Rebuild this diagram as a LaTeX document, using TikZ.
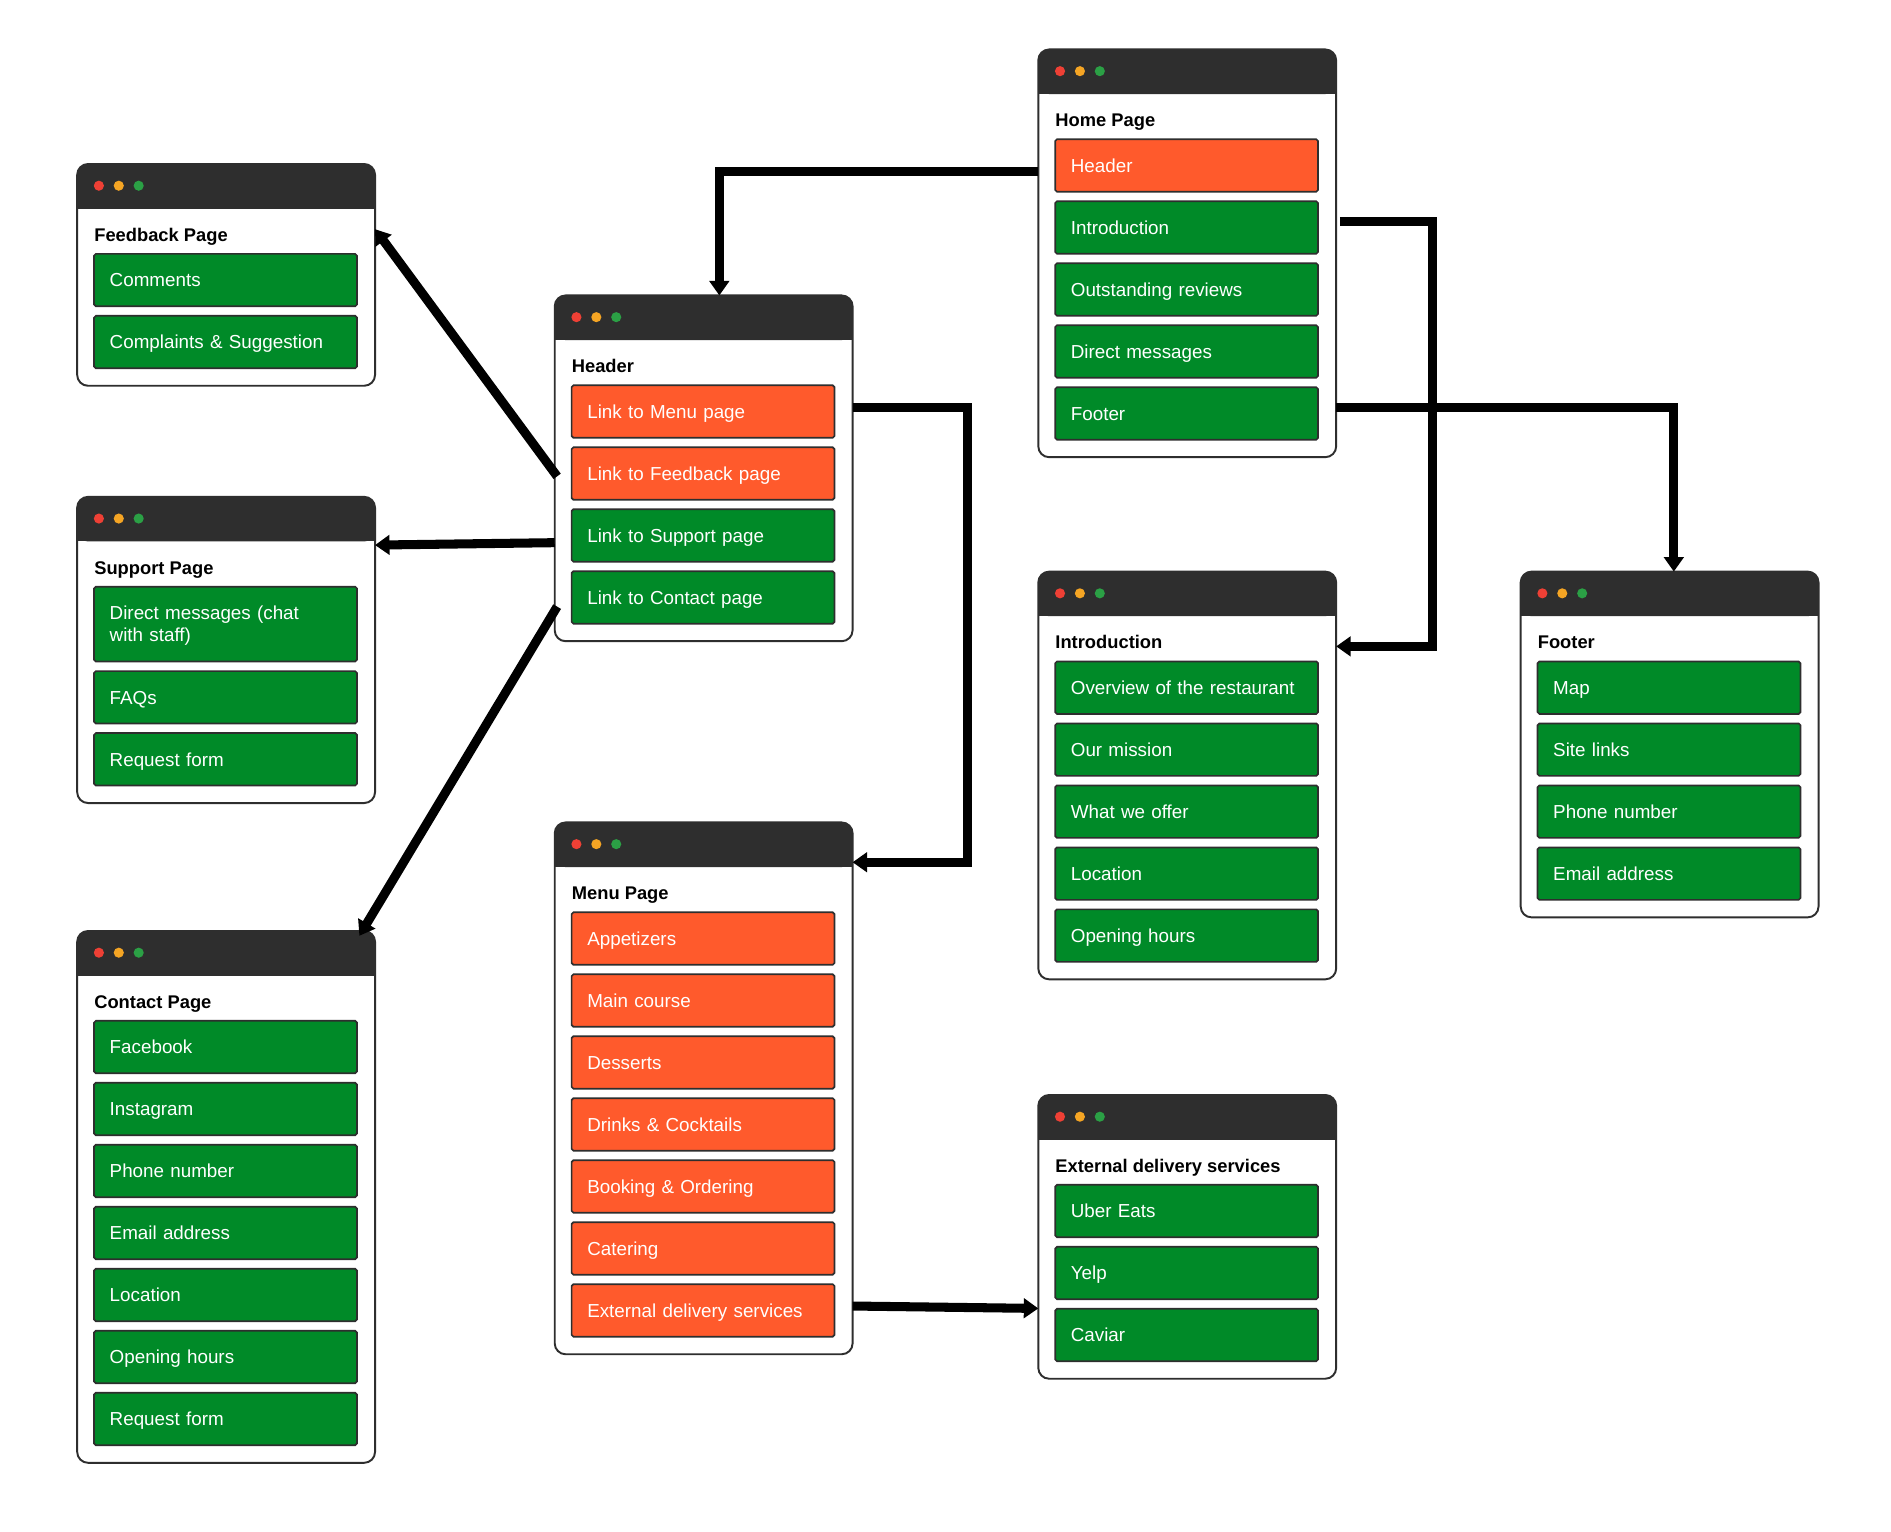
\documentclass[tikz,border=0pt]{standalone}
\usepackage{fontspec}
\setmainfont{Liberation Sans}
\usetikzlibrary{arrows.meta,calc}
\definecolor{hdrc}{HTML}{2E2E2E}
\definecolor{bordc}{HTML}{2E2E2E}
\definecolor{itgreen}{HTML}{008A28}
\definecolor{itorange}{HTML}{FF5A2C}
\definecolor{dotred}{HTML}{EE4035}
\definecolor{dotyel}{HTML}{F5A524}
\definecolor{dotgrn}{HTML}{2BA045}
\tikzset{
 winbox/.style={draw=bordc, line width=1.6pt, fill=white, rounded corners=9pt, inner sep=0pt, outer sep=0pt, minimum width=247pt, anchor=north west},
 wintitle/.style={font=\fontsize{15.2}{18}\selectfont\bfseries, anchor=base west, inner sep=0pt, text=black},
 itembox/.style={draw=bordc, line width=1.4pt, rounded corners=1.5pt, text=white, font=\fontsize{15.6}{18}\selectfont, anchor=north west, text width=192pt, align=left, inner xsep=13pt, inner ysep=0pt, minimum height=43.5pt, outer sep=0pt, text height=11.2pt, text depth=0pt},
 gitem/.style={itembox, fill=itgreen},
 oitem/.style={itembox, fill=itorange},
 gitemtwo/.style={gitem, minimum height=62pt, text depth=18pt},
 conn/.style={line width=7.5pt, line join=miter, -{Triangle[length=12pt,width=16pt]}},
}
\newcommand\webwin[5]{%
 \node[winbox, minimum height=#4pt] (#1) at (#2,#3) {};
 \fill[hdrc, rounded corners=9pt] (#1.north west) rectangle ($(#1.north east)+(0,37)$);
 \fill[hdrc] ($(#1.north west)+(0,25)$) rectangle ($(#1.north east)+(0,37)$);
 \fill[dotred] ($(#1.north west)+(18,18)$) circle (4.2pt);
 \fill[dotyel] ($(#1.north west)+(34.5,18)$) circle (4.2pt);
 \fill[dotgrn] ($(#1.north west)+(51,18)$) circle (4.2pt);
 \node[wintitle] (#1-t) at ($(#1.north west)+(14,64)$) {#5};
}
\newcommand\pgitem[5]{\node[#1] (#2-#3) at ($(#2.north west)+(14,#4)$) {#5};}
\begin{document}
\begin{tikzpicture}[x=1pt,y=-1pt]
\fill[white] (0,0) rectangle (1568.1,1269.6);
\useasboundingbox (0,0) rectangle (1568.1,1269.6);

% Feedback
\webwin{fb}{64}{136}{183.9}{Feedback Page}
\pgitem{gitem}{fb}{1}{74.5}{Comments}
\pgitem{gitem}{fb}{2}{125.9}{Complaints \& Suggestion}

% Support
\webwin{sup}{64}{412}{253.9}{Support Page}
\pgitem{gitemtwo}{sup}{1}{74.5}{Direct messages (chat\\with staff)}
\pgitem{gitem}{sup}{2}{144.5}{FAQs}
\pgitem{gitem}{sup}{3}{195.9}{Request form}

% Contact
\webwin{con}{64}{772}{441}{Contact Page}
\pgitem{gitem}{con}{1}{74.5}{Facebook}
\pgitem{gitem}{con}{2}{125.9}{Instagram}
\pgitem{gitem}{con}{3}{177.3}{Phone number}
\pgitem{gitem}{con}{4}{228.7}{Email address}
\pgitem{gitem}{con}{5}{280.1}{Location}
\pgitem{gitem}{con}{6}{331.5}{Opening hours}
\pgitem{gitem}{con}{7}{382.9}{Request form}

% Header
\webwin{hdr}{460}{245}{286.7}{Header}
\pgitem{oitem}{hdr}{1}{74.5}{Link to Menu page}
\pgitem{oitem}{hdr}{2}{125.9}{Link to Feedback page}
\pgitem{gitem}{hdr}{3}{177.3}{Link to Support page}
\pgitem{gitem}{hdr}{4}{228.7}{Link to Contact page}

% Menu
\webwin{menu}{460}{682}{441}{Menu Page}
\pgitem{oitem}{menu}{1}{74.5}{Appetizers}
\pgitem{oitem}{menu}{2}{125.9}{Main course}
\pgitem{oitem}{menu}{3}{177.3}{Desserts}
\pgitem{oitem}{menu}{4}{228.7}{Drinks \& Cocktails}
\pgitem{oitem}{menu}{5}{280.1}{Booking \& Ordering}
\pgitem{oitem}{menu}{6}{331.5}{Catering}
\pgitem{oitem}{menu}{7}{382.9}{External delivery services}

% Home
\webwin{home}{861}{41}{338.1}{Home Page}
\pgitem{oitem}{home}{1}{74.5}{Header}
\pgitem{gitem}{home}{2}{125.9}{Introduction}
\pgitem{gitem}{home}{3}{177.3}{Outstanding reviews}
\pgitem{gitem}{home}{4}{228.7}{Direct messages}
\pgitem{gitem}{home}{5}{280.1}{Footer}

% Introduction
\webwin{intro}{861}{474}{338.1}{Introduction}
\pgitem{gitem}{intro}{1}{74.5}{Overview of the restaurant}
\pgitem{gitem}{intro}{2}{125.9}{Our mission}
\pgitem{gitem}{intro}{3}{177.3}{What we offer}
\pgitem{gitem}{intro}{4}{228.7}{Location}
\pgitem{gitem}{intro}{5}{280.1}{Opening hours}

% Footer
\webwin{foot}{1261}{474}{286.7}{Footer}
\pgitem{gitem}{foot}{1}{74.5}{Map}
\pgitem{gitem}{foot}{2}{125.9}{Site links}
\pgitem{gitem}{foot}{3}{177.3}{Phone number}
\pgitem{gitem}{foot}{4}{228.7}{Email address}

% External delivery
\webwin{ext}{861}{908}{235.3}{External delivery services}
\pgitem{gitem}{ext}{1}{74.5}{Uber Eats}
\pgitem{gitem}{ext}{2}{125.9}{Yelp}
\pgitem{gitem}{ext}{3}{177.3}{Caviar}

% Connectors
\draw[conn] ($(home.north west)+(0,101)$) -| ($(hdr.north)+(13,0)$);
\draw[conn] ($(hdr.north east)+(0,93)$) -- ++(95,0) |- ($(menu.north east)+(0,33)$);
\draw[conn] ($(home.north east)+(3,143)$) -- ++(77,0) |- ($(intro.north east)+(0,62)$);
\draw[conn] ($(home.north east)+(0,297)$) -| ($(foot.north)+(3.5,0)$);
\draw[conn] ($(hdr.north west)+(2,150)$) -- ($(fb.north east)+(0,54)$);
\draw[conn] ($(hdr.north west)+(0,205)$) -- ($(sup.north east)+(0,40)$);
\draw[conn] ($(hdr.north west)+(2,258)$) -- ($(con.north east)+(-13,4)$);
\draw[conn] ($(menu.north east)+(0,401)$) -- ($(ext.north west)+(0,177)$);
\end{tikzpicture}
\end{document}
